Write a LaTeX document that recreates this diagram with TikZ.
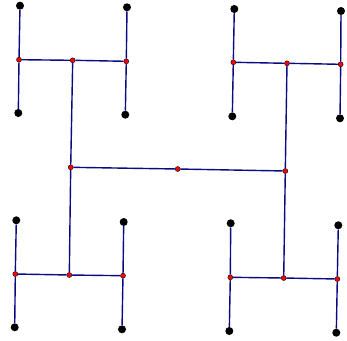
\documentclass[tikz,border=0pt]{standalone}
\definecolor{hblue}{RGB}{10,10,130}
\tikzset{
  rdot/.style={circle,fill=red,draw=black,line width=0.4pt,inner sep=0pt,minimum size=5pt},
  bdot/.style={circle,fill=black,inner sep=0pt,minimum size=8pt},
  hline/.style={draw=hblue,line width=1.4pt}
}
\begin{document}
\begin{tikzpicture}[x=1pt,y=-1pt]
\useasboundingbox (0,0) rectangle (347,340);
% centre level
\node[rdot] (C) at (177.7,169) {};
\node[rdot] (L) at (70.7,167.3) {};
\node[rdot] (R) at (285.3,171) {};
% top-left H
\node[rdot] (tlc) at (72.7,60.3) {};
\node[rdot] (tll) at (19,59.7) {};
\node[rdot] (tlr) at (126.3,61.3) {};
\node[bdot] (tllt) at (20,5.7) {};
\node[bdot] (tllb) at (18.3,113) {};
\node[bdot] (tlrt) at (127,7.3) {};
\node[bdot] (tlrb) at (125.3,114.7) {};
% top-right H
\node[rdot] (trc) at (287,63.3) {};
\node[rdot] (trl) at (233.3,62.3) {};
\node[rdot] (trr) at (340.7,64.3) {};
\node[bdot] (trlt) at (234.3,9) {};
\node[bdot] (trlb) at (232.3,116.3) {};
\node[bdot] (trrt) at (341,11) {};
\node[bdot] (trrb) at (340,118.3) {};
% bottom-left H
\node[rdot] (blc) at (69.3,275) {};
\node[rdot] (bll) at (15.3,274) {};
\node[rdot] (blr) at (123,275.7) {};
\node[bdot] (bllt) at (16.3,220.3) {};
\node[bdot] (bllb) at (14.7,327.3) {};
\node[bdot] (blrt) at (123.7,222) {};
\node[bdot] (blrb) at (122,329.3) {};
% bottom-right H
\node[rdot] (brc) at (283.7,278) {};
\node[rdot] (brl) at (230.3,277.3) {};
\node[rdot] (brr) at (337.3,279) {};
\node[bdot] (brlt) at (230.7,223.3) {};
\node[bdot] (brlb) at (229.3,331) {};
\node[bdot] (brrt) at (338.3,225.3) {};
\node[bdot] (brrb) at (336.3,332.7) {};
% connectors
\path[hline] (L) -- (C) -- (R);
\path[hline] (tlc) -- (L) -- (blc);
\path[hline] (trc) -- (R) -- (brc);
\foreach \h in {tl,tr,bl,br}{
  \path[hline] (\h l) -- (\h c) -- (\h r);
  \path[hline] (\h lt) -- (\h l) -- (\h lb);
  \path[hline] (\h rt) -- (\h r) -- (\h rb);
}
\end{tikzpicture}
\end{document}
